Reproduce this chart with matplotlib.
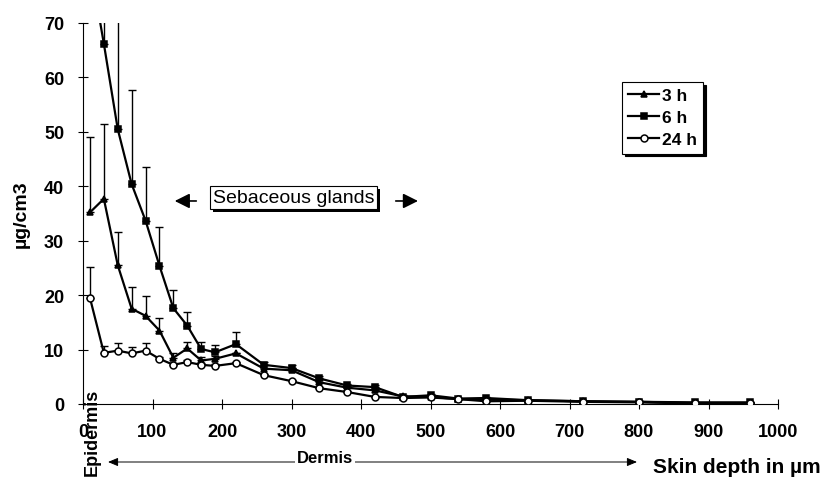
import numpy as np
import matplotlib
matplotlib.use('Agg')
import matplotlib.pyplot as plt
from matplotlib.patches import FancyArrowPatch, Rectangle

## Data
depth = [10, 30, 50, 70, 90, 110, 130, 150, 170, 190, 220, 260, 300, 340, 380,
         420, 460, 500, 540, 580, 640, 720, 800, 880, 960]   # skin depth [um]

conc_3h = [35.2, 37.7, 25.5, 17.5, 16.2, 13.5, 8.5, 10.2, 8.0, 8.3, 9.3, 6.5, 6.2,
           4.0, 3.0, 2.5, 1.4, 1.3, 0.9, 0.8, 0.7, 0.5, 0.4, 0.2, 0.2]
conc_6h = [81.0, 66.2, 50.5, 40.4, 33.7, 25.4, 17.6, 14.4, 10.1, 9.5, 11.0, 7.2, 6.6,
           4.7, 3.4, 3.1, 1.3, 1.6, 1.0, 1.1, 0.7, 0.5, 0.4, 0.3, 0.3]
conc_24h = [19.5, 9.4, 9.8, 9.3, 9.8, 8.3, 7.2, 7.7, 7.2, 7.0, 7.5, 5.3, 4.2,
            2.9, 2.2, 1.3, 1.1, 1.2, 0.9, 0.5, 0.6, 0.4, 0.3, 0.1, 0.1]

# upper error bars (only the upper part is drawn)
err_3h = [13.9, 13.8, 6.1, 4.0, 3.7, 2.3, 0.8, 1.2, 0.6, 0.6, 0.0, 0.6, 0.5,
          0.4, 0.3, 0.3, 0.2, 0.2, 0.1, 0.1, 0.1, 0.1, 0.1, 0.0, 0.0]
err_6h = [0.0, 14.0, 30.0, 17.3, 9.8, 7.2, 3.4, 2.5, 1.3, 1.3, 2.2, 0.6, 0.6,
          0.4, 0.3, 0.3, 0.2, 0.2, 0.1, 0.2, 0.1, 0.1, 0.1, 0.0, 0.0]
err_24h = [5.7, 1.3, 1.4, 1.2, 1.4, 0.4, 0.3, 0.3, 0.3, 0.3, 0.3, 0.3, 0.3,
           0.2, 0.2, 0.2, 0.1, 0.1, 0.1, 0.1, 0.1, 0.1, 0.1, 0.0, 0.0]

x_ticks = [0, 100, 200, 300, 400, 500, 600, 700, 800, 900, 1000]
y_ticks = [0, 10, 20, 30, 40, 50, 60, 70]

plt.rcParams['font.family'] = ['Liberation Sans', 'DejaVu Sans']

fig = plt.figure(figsize=(8.36, 4.85), dpi=100)
ax = fig.add_axes([83/836, 80/485, 695/836, 381/485])

## series: (values, errors, marker, face colour, label)
series = [(conc_3h, err_3h, '^', 'black', '3 h'),
          (conc_6h, err_6h, 's', 'black', '6 h'),
          (conc_24h, err_24h, 'o', 'white', '24 h')]

for vals, errs, mk, fc, lab in series:
    up = np.array(errs)
    lo = np.zeros_like(up)
    ax.errorbar(depth, vals, yerr=[lo, up], fmt='none', ecolor='black',
                elinewidth=1.0, capsize=3, capthick=1.0, zorder=2)
    ax.plot(depth, vals, '-', color='black', marker=mk, markersize=5,
            markerfacecolor=fc, markeredgecolor='black', markeredgewidth=1.1,
            linewidth=1.6, label=lab, zorder=3)

ax.set_xlim(0, 1000)
ax.set_ylim(0, 70)
ax.set_xticks(x_ticks)
ax.set_yticks(y_ticks)
ax.tick_params(direction='inout', length=7, width=0.8, labelsize=13)
ax.tick_params(axis='x', pad=10)
ax.tick_params(axis='y', pad=10)
for lbl in ax.get_xticklabels() + ax.get_yticklabels():
    lbl.set_fontweight('bold')
for s in ['top', 'right']:
    ax.spines[s].set_visible(False)
ax.spines['left'].set_linewidth(0.8)
ax.spines['bottom'].set_linewidth(0.8)

ax.set_ylabel('µg/cm3', fontsize=14, fontweight='bold', labelpad=10)

## legend with a hard black shadow
leg = ax.legend(loc='upper left', bbox_to_anchor=(622/836, 1 - 83/485),
                bbox_transform=fig.transFigure, frameon=True, fancybox=False,
                shadow={'color': 'black', 'alpha': 1.0}, handlelength=1.8,
                handletextpad=0.15, borderpad=0.35, labelspacing=0.4,
                borderaxespad=0, prop={'weight': 'bold', 'size': 12.5})
leg.get_frame().set_edgecolor('black')
leg.get_frame().set_linewidth(0.8)

## "Sebaceous glands" box with shadow and arrows
t = ax.text(303, 38.0, 'Sebaceous glands', fontsize=14, ha='center', va='center',
            zorder=6,
            bbox=dict(boxstyle='square,pad=0.15', fc='white', ec='black', lw=0.8))
ax.annotate('', xy=(132, 37.3), xytext=(163, 37.3),
            arrowprops=dict(arrowstyle='-|>,head_length=0.9,head_width=0.45',
                            color='black', lw=1.2, shrinkA=0, shrinkB=0))
ax.annotate('', xy=(482, 37.3), xytext=(450, 37.3),
            arrowprops=dict(arrowstyle='-|>,head_length=0.9,head_width=0.45',
                            color='black', lw=1.2, shrinkA=0, shrinkB=0))

# shadow behind the box, placed after a first draw so the box size is known
fig.canvas.draw()
bb = t.get_bbox_patch().get_window_extent()
shadow = Rectangle((bb.x0 + 3, bb.y0 - 3), bb.width, bb.height,
                   fc='black', ec='none', zorder=5)
shadow.set_transform(matplotlib.transforms.IdentityTransform())
ax.add_artist(shadow)

## text below the axis (figure pixel coordinates)
fig.text(92/836, 1 - 432/485, 'Epidermis', rotation=90, ha='center', va='center',
         fontsize=13, fontweight='bold')
fig.patches.append(FancyArrowPatch(
    (108/836, 1 - 463/485), (637/836, 1 - 463/485), transform=fig.transFigure,
    arrowstyle='<|-|>,head_length=6,head_width=2.5', color='black', lw=0.7,
    shrinkA=0, shrinkB=0, figure=fig))
fig.text(325/836, 1 - 459/485, 'Dermis', ha='center', va='center',
         fontsize=12, fontweight='bold',
         bbox=dict(boxstyle='square,pad=0.1', fc='white', ec='none'))
fig.text(653/836, 1 - 468/485, 'Skin depth in µm', ha='left', va='center',
         fontsize=15, fontweight='bold')

fig.savefig('out.png', dpi=100)
